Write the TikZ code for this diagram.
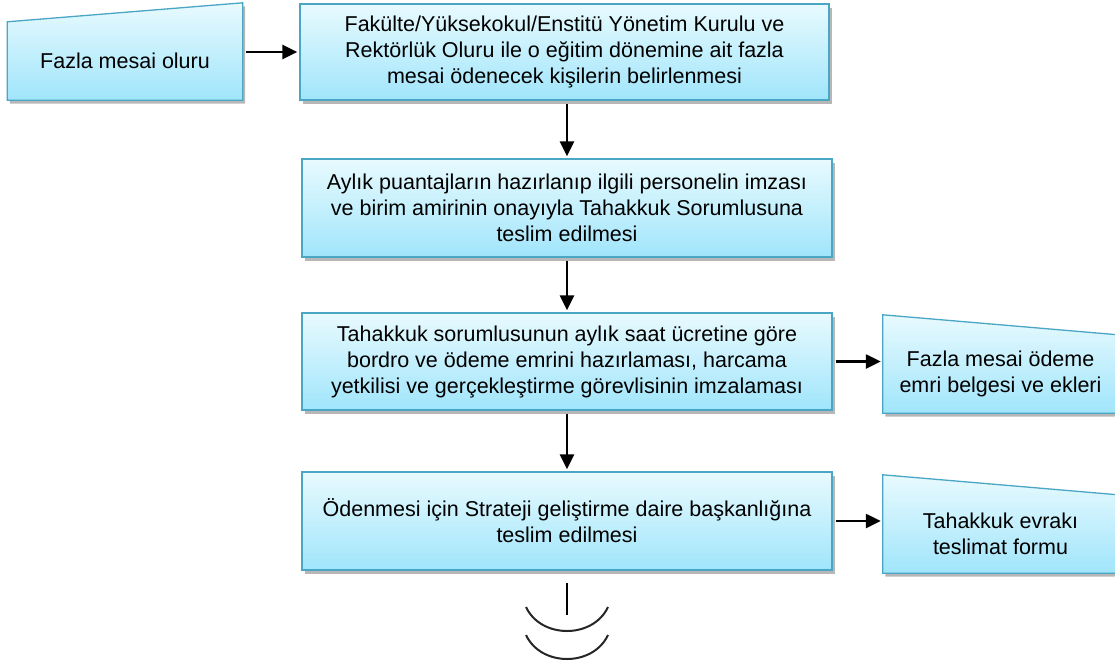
\documentclass[tikz,border=0pt]{standalone}
\usepackage{fontspec}
\setmainfont{Liberation Sans}
\usepackage{tikz}
\usetikzlibrary{arrows,arrows.meta,shapes,positioning,shadows,backgrounds}
\definecolor{kutuust}{RGB}{232,250,254}
\definecolor{kutualt}{RGB}{160,229,251}
\definecolor{kenar}{RGB}{74,166,196}
\tikzset{
  every picture/.style = {
    >={Triangle[length=15pt,width=14pt]},
  }
  ,
  kutu/.style = {
    draw = kenar,
    line width = 1.3pt,
    top color = kutuust,
    bottom color = kutualt,
    drop shadow = {shadow xshift=2.5pt, shadow yshift=-3.5pt,
                   fill=black!70, opacity=.4}
  }
  , % rectangular steps
  adim/.style = {
    kutu,
    rectangle,
    font = \fontsize{21.5}{26}\selectfont,
    align = center,
    inner sep = 0pt,
    minimum width = 530pt,
    minimum height = 97pt
  }
  , % text of the slanted boxes
  belge/.style = {
    font = \fontsize{21.5}{26}\selectfont,
    align = center,
    inner sep = 0pt,
    minimum width = 235pt,
    minimum height = 78pt
  }
  , % arrows
  ok/.style = {
    ->,
    line width = 2.4pt,
    shorten <= 3pt,
    shorten >= 2pt
  }
}

\begin{document}
\begin{tikzpicture}[x=1pt,y=-1pt]
    \useasboundingbox (0,0) rectangle (1115,664);

    \node [belge] (olur) at (125,61) {Fazla mesai oluru};
    \node [adim, minimum width=529pt, minimum height=96pt] (kurul) at (564.5,52)
      {Fakülte/Yüksekokul/Enstitü Yönetim Kurulu ve\\
       Rektörlük Oluru ile o eğitim dönemine ait fazla\\
       mesai ödenecek kişilerin belirlenmesi};
    \node [adim, minimum height=98pt] (puantaj) at (567,208)
      {Aylık puantajların hazırlanıp ilgili personelin imzası\\
       ve birim amirinin onayıyla Tahakkuk Sorumlusuna\\
       teslim edilmesi};
    \node [adim] (bordro) at (567,361.5)
      {Tahakkuk sorumlusunun aylık saat ücretine göre\\
       bordro ve ödeme emrini hazırlaması, harcama\\
       yetkilisi ve gerçekleştirme görevlisinin imzalaması};
    \node [belge] (emir) at (1000.5,374)
      {Fazla mesai ödeme\\emri belgesi ve ekleri};
    \node [adim, minimum height=98pt] (teslim) at (567,521)
      {Ödenmesi için Strateji geliştirme daire başkanlığına\\
       teslim edilmesi};
    \node [belge] (evrak) at (1000.5,534)
      {Tahakkuk evrakı\\teslimat formu};
    \coordinate (son) at (567,615);

    % slanted boxes
    \begin{scope}[on background layer]
      \path [kutu] (olur.south west) -- (olur.south east)
        -- ([yshift=19pt]olur.north east) -- (olur.north west) -- cycle;
      \path [kutu] (emir.south west) -- (emir.south east)
        -- (emir.north east) -- ([yshift=20pt]emir.north west) -- cycle;
      \path [kutu] (evrak.south west) -- (evrak.south east)
        -- (evrak.north east) -- ([yshift=20pt]evrak.north west) -- cycle;
    \end{scope}

    \draw [ok] (olur.east |- kurul.west) -- (kurul.west);
    \draw [ok] (kurul.south -| puantaj.north) -- (puantaj.north);
    \draw [ok] (puantaj) -- (bordro);
    \draw [ok] (bordro.east) -- (bordro.east -| emir.west);
    \draw [ok] (bordro) -- (teslim);
    \draw [ok] (teslim.east) -- (teslim.east -| evrak.west);
    \draw [line width=1.8pt, shorten <=12pt] (teslim.south) -- (son);
    \foreach \dy in {0,28}
      \draw [line width=2pt, black!85] (526,607+\dy)
        .. controls (541,639+\dy) and (593,639+\dy) .. (608,607+\dy);
\end{tikzpicture}
\end{document}
